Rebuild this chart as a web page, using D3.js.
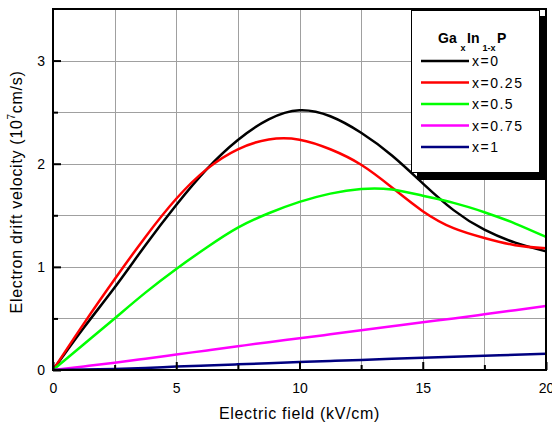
<!DOCTYPE html>
<html>
<head>
<meta charset="utf-8">
<script src="https://cdn.jsdelivr.net/npm/d3@7"></script>
<style>
  html, body { margin: 0; padding: 0; background: #fff; }
  svg { display: block; }
  text { font-family: "Liberation Sans", Arial, sans-serif; fill: #000; }
</style>
</head>
<body>
<svg id="chart" width="552" height="424"></svg>
<script>
// Electric field (kV/cm) sample points shared by all series
const field = [0, 1.25, 2.5, 3.75, 5, 6.25, 7.5, 8.75, 10, 11.25, 12.5, 13.75, 15, 16.25, 17.5, 18.75, 20];

// Electron drift velocity (10^7 cm/s) for each GaxIn1-xP composition
const vX0    = [0, 0.41, 0.80, 1.21, 1.60, 1.95, 2.23, 2.43, 2.518, 2.46, 2.30, 2.08, 1.81, 1.55, 1.36, 1.235, 1.15];
const vX025  = [0, 0.45, 0.88, 1.29, 1.66, 1.95, 2.14, 2.235, 2.233, 2.14, 1.99, 1.77, 1.54, 1.375, 1.28, 1.21, 1.18];
const vX05   = [0, 0.25, 0.50, 0.75, 0.98, 1.19, 1.38, 1.52, 1.63, 1.71, 1.755, 1.75, 1.69, 1.62, 1.53, 1.42, 1.29];
const vX075  = [0, 0.035, 0.07, 0.11, 0.15, 0.19, 0.23, 0.27, 0.307, 0.346, 0.385, 0.424, 0.463, 0.50, 0.54, 0.58, 0.62];
const vX1    = [0, 0.004, 0.01, 0.02, 0.033, 0.044, 0.055, 0.066, 0.077, 0.088, 0.098, 0.108, 0.118, 0.128, 0.138, 0.148, 0.158];

const seriesNames  = ["x=0", "x=0.25", "x=0.5", "x=0.75", "x=1"];
const seriesValues = [vX0, vX025, vX05, vX075, vX1];
const seriesColors = ["#000000", "#ff0000", "#00ff00", "#ff00ff", "#000080"];

const xTicks = [0, 5, 10, 15, 20];
const xMinor = [2.5, 7.5, 12.5, 17.5];
const yTicks = [0, 1, 2, 3];
const yMinor = [0.5, 1.5, 2.5];

const svg = d3.select("#chart");
const plot = { left: 53, right: 546, top: 9, bottom: 370 };

const x = d3.scaleLinear().domain([0, 20]).range([plot.left, plot.right]);
const y = d3.scaleLinear().domain([0, 3.5]).range([plot.bottom, plot.top]);

// grid
const grid = svg.append("g").attr("stroke", "#a0a0a0").attr("stroke-width", 1);
[...xMinor, 5, 10, 15].forEach(v => {
  grid.append("line").attr("x1", Math.round(x(v)) + 0.5).attr("x2", Math.round(x(v)) + 0.5)
    .attr("y1", plot.top).attr("y2", plot.bottom);
});
[...yMinor, 1, 2, 3].forEach(v => {
  grid.append("line").attr("y1", Math.round(y(v)) + 0.5).attr("y2", Math.round(y(v)) + 0.5)
    .attr("x1", plot.left).attr("x2", plot.right);
});

// curves
svg.append("clipPath").attr("id", "plotClip").append("rect")
  .attr("x", plot.left).attr("y", plot.top)
  .attr("width", plot.right - plot.left).attr("height", plot.bottom - plot.top);

const line = d3.line()
  .x(d => x(d[0]))
  .y(d => y(d[1]))
  .curve(d3.curveNatural);

const curves = svg.append("g").attr("clip-path", "url(#plotClip)");
seriesValues.forEach((vals, i) => {
  curves.append("path")
    .datum(field.map((f, j) => [f, vals[j]]))
    .attr("d", line)
    .attr("fill", "none")
    .attr("stroke", seriesColors[i])
    .attr("stroke-width", 2.5)
    .attr("stroke-linejoin", "round");
});

// axes with inward ticks
const xAxis = d3.axisBottom(x).tickValues(xTicks).tickSize(-8).tickPadding(13).tickFormat(d3.format("d"));
const xAxisMinor = d3.axisBottom(x).tickValues(xMinor).tickSize(-5).tickFormat("");
const yAxis = d3.axisLeft(y).tickValues(yTicks).tickSize(-8).tickPadding(8).tickFormat(d3.format("d"));
const yAxisMinor = d3.axisLeft(y).tickValues(yMinor).tickSize(-5).tickFormat("");

function styleAxis(g) {
  g.select(".domain").remove();
  g.selectAll(".tick line").attr("stroke", "#000").attr("stroke-width", 2);
  g.selectAll(".tick text").attr("font-size", 14).attr("fill", "#111")
    .attr("font-family", "Liberation Sans, Arial, sans-serif");
}

svg.append("g").attr("transform", `translate(0,${plot.bottom})`).call(xAxis).call(styleAxis);
svg.append("g").attr("transform", `translate(0,${plot.bottom})`).call(xAxisMinor).call(styleAxis);
svg.append("g").attr("transform", `translate(${plot.left},0)`).call(yAxis).call(styleAxis);
svg.append("g").attr("transform", `translate(${plot.left},0)`).call(yAxisMinor).call(styleAxis);

// frame
svg.append("rect")
  .attr("x", plot.left).attr("y", plot.top)
  .attr("width", plot.right - plot.left).attr("height", plot.bottom - plot.top)
  .attr("fill", "none").attr("stroke", "#000").attr("stroke-width", 2);

// axis titles
svg.append("text")
  .attr("x", (plot.left + plot.right) / 2).attr("y", 419)
  .attr("text-anchor", "middle").attr("font-size", 16).attr("letter-spacing", 0.7)
  .text("Electric field (kV/cm)");

const yTitle = svg.append("text")
  .attr("transform", "translate(22,192) rotate(-90)")
  .attr("text-anchor", "middle").attr("font-size", 16).attr("letter-spacing", 0.7);
yTitle.append("tspan").text("Electron drift velocity (10");
yTitle.append("tspan").attr("font-size", 10).attr("dy", -7).text("7");
yTitle.append("tspan").attr("dy", 7).text("cm/s)");

// legend
const lg = svg.append("g");
lg.append("rect").attr("x", 417).attr("y", 16).attr("width", 129).attr("height", 164).attr("fill", "#000");
lg.append("rect").attr("x", 411.5).attr("y", 10.5).attr("width", 128).attr("height", 162)
  .attr("fill", "#fff").attr("stroke", "#000").attr("stroke-width", 1);

const title = lg.append("text").attr("font-weight", "bold").attr("font-size", 14);
title.append("tspan").attr("x", 438).attr("y", 43).text("Ga");
title.append("tspan").attr("x", 460.5).attr("y", 51).attr("font-size", 9).text("x");
title.append("tspan").attr("x", 467).attr("y", 43).text("In");
title.append("tspan").attr("x", 482.5).attr("y", 51).attr("font-size", 9).text("1-x");
title.append("tspan").attr("x", 497).attr("y", 43).text("P");

const rowY = d3.scaleLinear().domain([0, 4]).range([61, 147]);
seriesNames.forEach((name, i) => {
  const yy = rowY(i);
  lg.append("line").attr("x1", 421).attr("x2", 469).attr("y1", yy).attr("y2", yy)
    .attr("stroke", seriesColors[i]).attr("stroke-width", 2.5);
  lg.append("text").attr("x", 472).attr("y", yy).attr("dy", "0.36em")
    .attr("font-size", 14).attr("letter-spacing", 1.5).text(name);
});
</script>
</body>
</html>
